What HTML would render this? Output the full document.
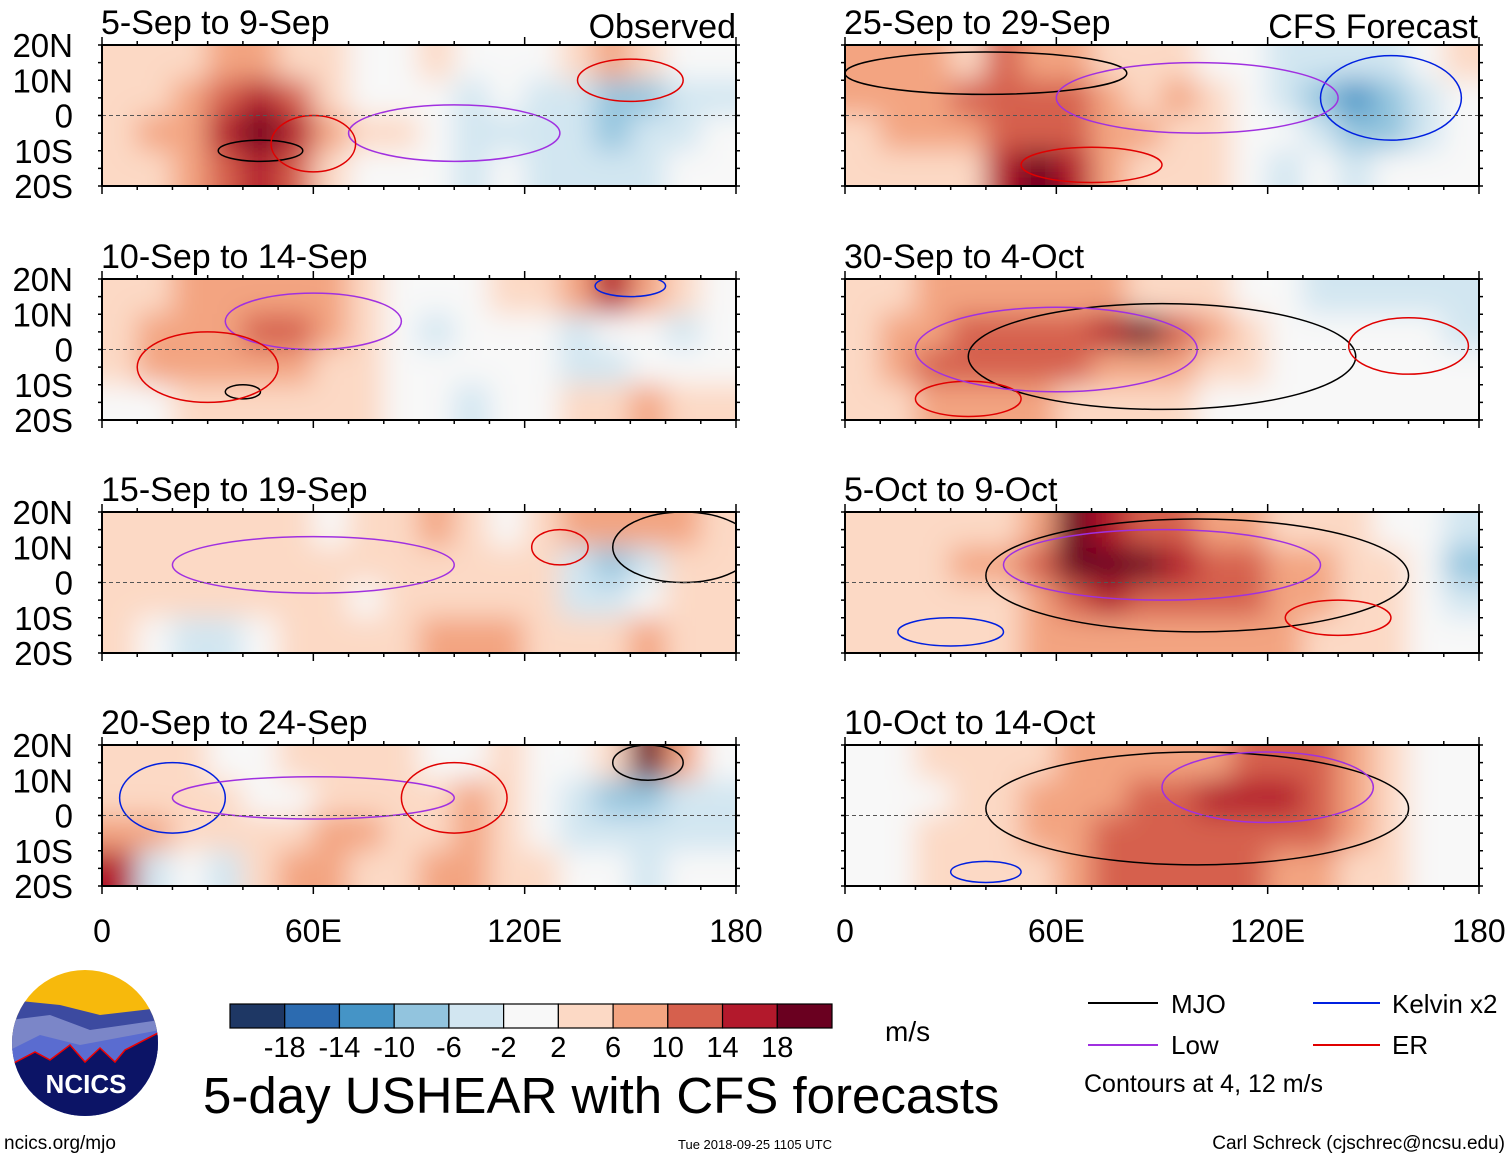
<!DOCTYPE html>
<html><head><meta charset="utf-8">
<style>
html,body{margin:0;padding:0;background:#fff;}
body{width:1510px;height:1159px;overflow:hidden;font-family:"Liberation Sans",sans-serif;}
svg text{font-family:"Liberation Sans",sans-serif;}
</style></head>
<body>
<svg id="chart" width="1510" height="1159" viewBox="0 0 1510 1159" xmlns="http://www.w3.org/2000/svg">
<defs>
<filter id="blur" x="-10%" y="-10%" width="120%" height="120%"><feGaussianBlur stdDeviation="14"/></filter>
</defs>
<g id="panels"></g>
<g id="bottom"></g>
</svg>
<script>
// ---- data ----
const panelTitles = ["5-Sep to 9-Sep","10-Sep to 14-Sep","15-Sep to 19-Sep","20-Sep to 24-Sep","25-Sep to 29-Sep","30-Sep to 4-Oct","5-Oct to 9-Oct","10-Oct to 14-Oct"];
const latTicks = ["20N","10N","0","10S","20S"];
const lonTicks = ["0","60E","120E","180"];
const lonTickValues = [0,60,120,180];
const binEdges = [-18,-14,-10,-6,-2,2,6,10,14,18];
const binColors = ["#1e3764","#2c6bb0","#4594c6","#92c4de","#d2e6f1","#f8f8f8","#fcd9c5","#f3a481","#d6604d","#b3192c","#6a0020"];
// grids: 4 latitude rows (20N-10N,10N-0,0-10S,10S-20S) x 18 longitude columns (10 deg)
const grid0 = [[2,4,4,6,6,4,2,0,-2,2,0,-2,0,4,6,4,0,-2],[2,4,6,10,14,10,4,0,-2,0,-4,-2,-4,-6,-8,-10,-6,-4],[4,6,8,14,20,14,6,2,2,0,-4,-4,-4,-6,-8,-6,-4,-2],[2,4,6,10,14,10,4,0,0,-2,-4,-2,-6,-6,-6,-4,-2,0]];
const grid1 = [[2,4,6,6,6,8,6,2,0,-2,0,4,4,6,14,8,2,0],[4,6,8,8,10,10,6,2,-2,-4,-2,0,0,-4,-2,-2,-4,-2],[4,6,6,6,6,6,4,2,0,0,-2,-2,-2,-6,-4,-2,-2,-2],[-2,0,2,4,4,2,2,2,-2,-2,-4,-2,0,2,4,6,4,2]];
const grid2 = [[2,4,4,2,2,4,0,2,4,6,2,0,2,6,8,6,6,4],[2,2,4,2,2,4,2,2,2,2,4,2,2,-6,-8,-4,2,4],[4,4,2,2,4,4,2,0,2,4,4,4,2,-4,-4,-2,2,2],[2,0,-4,-6,-2,4,2,2,4,6,6,6,4,2,4,6,4,2]];
const grid3 = [[2,4,2,-2,0,2,4,2,2,-2,0,4,-2,0,2,18,6,-2],[2,4,4,4,-2,0,4,4,4,2,6,4,-2,-6,-8,-8,-6,-6],[6,6,4,4,2,4,6,6,4,2,6,4,-2,-4,-6,-6,-4,-4],[14,-4,-2,-4,4,6,6,4,4,6,6,4,2,-2,-2,-4,-2,-2]];
const grid4 = [[6,6,6,4,10,8,6,4,2,4,0,-2,-4,-4,-6,-4,-2,2],[6,6,8,10,12,10,10,6,4,6,2,-2,-4,-8,-12,-10,-4,0],[4,6,6,6,10,10,12,8,6,4,2,0,-2,-6,-10,-8,-4,0],[2,4,4,4,14,20,14,8,4,4,2,-2,-4,-2,-4,-2,0,0]];
const grid5 = [[2,4,6,6,6,8,8,6,4,4,2,0,-2,-4,-4,-6,-4,-4],[4,6,8,10,10,12,10,14,18,10,6,2,0,-2,-2,-2,-2,-4],[4,6,10,12,10,10,10,8,8,6,4,2,0,0,0,-2,-2,-2],[2,4,6,6,6,6,4,4,2,2,0,0,0,0,0,0,0,0]];
const grid6 = [[4,4,4,4,4,8,18,16,12,10,8,6,4,2,2,0,-2,-4],[4,4,4,6,6,10,18,18,18,14,12,10,8,6,4,2,-2,-8],[2,4,4,4,4,8,10,14,12,10,10,10,8,6,4,2,0,-4],[2,2,4,4,4,6,8,8,8,8,8,8,6,4,2,2,0,-2]];
const grid7 = [[0,-2,2,2,4,4,6,8,8,6,8,10,10,10,6,4,-2,-2],[-2,-2,0,2,4,6,8,8,10,12,14,14,16,12,6,2,0,-2],[-2,0,2,2,4,6,8,10,10,10,10,12,12,10,6,2,0,-2],[0,0,2,2,2,4,8,10,10,10,10,10,8,6,4,2,0,0]];
const grids = [grid0,grid1,grid2,grid3,grid4,grid5,grid6,grid7];
// contours: [lonCenter, latCenter, lonRadius, latRadius, type]
const contours0 = [[45,-10,12,3,"mjo"],[100,-5,30,8,"low"],[150,10,15,6,"er"],[60,-8,12,8,"er"]];
const contours1 = [[40,-12,5,2,"mjo"],[150,18,10,3,"kelvin"],[60,8,25,8,"low"],[30,-5,20,10,"er"]];
const contours2 = [[165,10,20,10,"mjo"],[60,5,40,8,"low"],[130,10,8,5,"er"]];
const contours3 = [[155,15,10,5,"mjo"],[20,5,15,10,"kelvin"],[60,5,40,6,"low"],[100,5,15,10,"er"]];
const contours4 = [[40,12,40,6,"mjo"],[70,-14,20,5,"er"],[155,5,20,12,"kelvin"],[100,5,40,10,"low"]];
const contours5 = [[90,-2,55,15,"mjo"],[160,1,17,8,"er"],[35,-14,15,5,"er"],[60,0,40,12,"low"]];
const contours6 = [[100,2,60,16,"mjo"],[30,-14,15,4,"kelvin"],[90,5,45,10,"low"],[140,-10,15,5,"er"]];
const contours7 = [[100,2,60,16,"mjo"],[120,8,30,10,"low"],[40,-16,10,3,"kelvin"]];
const contourSets = [contours0,contours1,contours2,contours3,contours4,contours5,contours6,contours7];
const contourColors = {mjo:"#000000",low:"#a030e0",kelvin:"#0020e0",er:"#e00000"};

// ---- layout ----
const NS="http://www.w3.org/2000/svg";
const colX = [102,845], colW = 634;
const rowY = [45,279,512,745], rowH = 141;
function mk(tag, attrs, parent){const e=document.createElementNS(NS,tag);for(const k in attrs)e.setAttribute(k,attrs[k]);parent.appendChild(e);return e;}
function colorFor(v){let i=0;while(i<binEdges.length && v>=binEdges[i])i++;return binColors[i];}
const panelsG=document.getElementById('panels');

for(let p=0;p<8;p++){
  const col = p<4?0:1, row = p%4;
  const x0=colX[col], y0=rowY[row];
  const xs = lon => x0 + lon/180*colW;
  const ys = lat => y0 + (20-lat)/40*rowH;
  const g=mk('g',{},panelsG);
  
  
  const clipId='clip'+p;
  const cp=mk('clipPath',{id:clipId},g);
  mk('rect',{x:x0,y:y0,width:colW,height:rowH},cp);
  const cg=mk('g',{'clip-path':'url(#'+clipId+')'},g);
  const hg=mk('g',{filter:'url(#blur)'},cg);
  
  
  const gr=grids[p];
  for(let r=-1;r<=4;r++){for(let c=-1;c<=18;c++){
    const rr=Math.max(0,Math.min(3,r)), cc=Math.max(0,Math.min(17,c));
    const cell=mk('rect',{x:xs(c*10)-0.5,y:ys(20-r*10)-0.5,width:colW/18+1,height:rowH/4+1,fill:colorFor(gr[rr][cc])},hg);
    
    
  }}
  contourSets[p].forEach(ct=>{
    const el=mk('ellipse',{cx:xs(ct[0]),cy:ys(ct[1]),rx:ct[2]/180*colW,ry:ct[3]/40*rowH,fill:'none',stroke:contourColors[ct[4]],'stroke-width':1.5},cg);
    
    
  });
  mk('line',{x1:x0,x2:x0+colW,y1:ys(0),y2:ys(0),stroke:'#555','stroke-width':1,'stroke-dasharray':'4,3'},g);
  const fr=mk('rect',{x:x0,y:y0,width:colW,height:rowH,fill:'none',stroke:'#000','stroke-width':2},g);
  
  
  for(let lon=0;lon<=180;lon+=10){
    const L=(lon%60===0)?8:4;
    mk('line',{x1:xs(lon),x2:xs(lon),y1:y0,y2:y0-L,stroke:'#000','stroke-width':1.5},g);
    mk('line',{x1:xs(lon),x2:xs(lon),y1:y0+rowH,y2:y0+rowH+L,stroke:'#000','stroke-width':1.5},g);
  }
  for(let lat=-20;lat<=20;lat+=5){
    mk('line',{x1:x0,x2:x0-4,y1:ys(lat),y2:ys(lat),stroke:'#000','stroke-width':1.5},g);
    mk('line',{x1:x0+colW,x2:x0+colW+4,y1:ys(lat),y2:ys(lat),stroke:'#000','stroke-width':1.5},g);
  }
  const t=mk('text',{x:x0-1,y:y0-11,'font-size':34,fill:'#000'},g);
  t.textContent=panelTitles[p];
  
  
  if(col===0){
    latTicks.forEach((lb,i)=>{
      const tt=mk('text',{x:73,y:ys(20-i*10)+12,'font-size':33,'text-anchor':'end',fill:'#000'},g);
      tt.textContent=lb;
      
      
    });
  }
  if(row===3){
    lonTicks.forEach((lb,i)=>{
      const tt=mk('text',{x:xs(lonTickValues[i]),y:942,'font-size':32,'text-anchor':'middle',fill:'#000'},g);
      tt.textContent=lb;
      
      
    });
  }
}
const o1=mk('text',{x:736,y:38,'font-size':34,'text-anchor':'end'},panelsG);o1.textContent='Observed';

const o2=mk('text',{x:1478,y:38,'font-size':34,'text-anchor':'end'},panelsG);o2.textContent='CFS Forecast';


// ---- bottom: colorbar ----
const bg=document.getElementById('bottom');
const cbX=230, cbW=602, cbY=1004, cbH=24, bw=cbW/11;
binColors.forEach((c,i)=>{
  const r=mk('rect',{x:cbX+i*bw,y:cbY,width:bw,height:cbH,fill:c,stroke:'#000','stroke-width':1.2},bg);
  
  
});
binEdges.forEach((v,i)=>{
  const t=mk('text',{x:cbX+(i+1)*bw,y:1057,'font-size':29,'text-anchor':'middle'},bg);
  t.textContent=String(v);
  
  
});
</script>
<svg style="position:absolute;left:0;top:0" width="1510" height="1159">
  <text x="885" y="1041" font-size="28">m/s</text>
  <text x="203" y="1113" font-size="51">5-day USHEAR with CFS forecasts</text>
  <g>
    <clipPath id="lc"><circle cx="85" cy="1043" r="73"/></clipPath>
    <g clip-path="url(#lc)">
      <rect x="10" y="968" width="150" height="150" fill="#f7b90c"/>
      <path d="M10 1000 L60 1005 L100 1015 L160 1008 L160 1118 L10 1118Z" fill="#3c4aa0"/>
      <path d="M10 1020 L50 1015 L90 1030 L160 1020 L160 1118 L10 1118Z" fill="#7b86c8"/>
      <path d="M10 1050 L40 1035 L80 1045 L160 1030 L160 1118 L10 1118Z" fill="#5a6cd0"/>
      <path d="M10 1065 L35 1052 L50 1060 L70 1045 L85 1062 L100 1048 L115 1062 L125 1050 L160 1032 L160 1118 L10 1118Z" fill="#0c1466" stroke="#e00" stroke-width="1.5"/>
    </g>
    <text x="86" y="1093" font-size="26" font-weight="bold" fill="#fff" text-anchor="middle">NCICS</text>
  </g>
  <text x="4" y="1149" font-size="19">ncics.org/mjo</text>
  <text x="755" y="1149" font-size="13" text-anchor="middle">Tue 2018-09-25 1105 UTC</text>
  <text x="1505" y="1149" font-size="19" text-anchor="end">Carl Schreck (cjschrec@ncsu.edu)</text>
  <g>
    <line x1="1088" y1="1003" x2="1158" y2="1003" stroke="#000" stroke-width="2"/>
    <text x="1171" y="1013" font-size="26">MJO</text>
    <line x1="1088" y1="1045" x2="1158" y2="1045" stroke="#a030e0" stroke-width="2"/>
    <text x="1171" y="1054" font-size="26">Low</text>
    <line x1="1313" y1="1003" x2="1380" y2="1003" stroke="#0020e0" stroke-width="2"/>
    <text x="1392" y="1013" font-size="26">Kelvin x2</text>
    <line x1="1313" y1="1045" x2="1380" y2="1045" stroke="#e00000" stroke-width="2"/>
    <text x="1392" y="1054" font-size="26">ER</text>
    <text x="1084" y="1092" font-size="25">Contours at 4, 12 m/s</text>
  </g>
</svg>
</body></html>
